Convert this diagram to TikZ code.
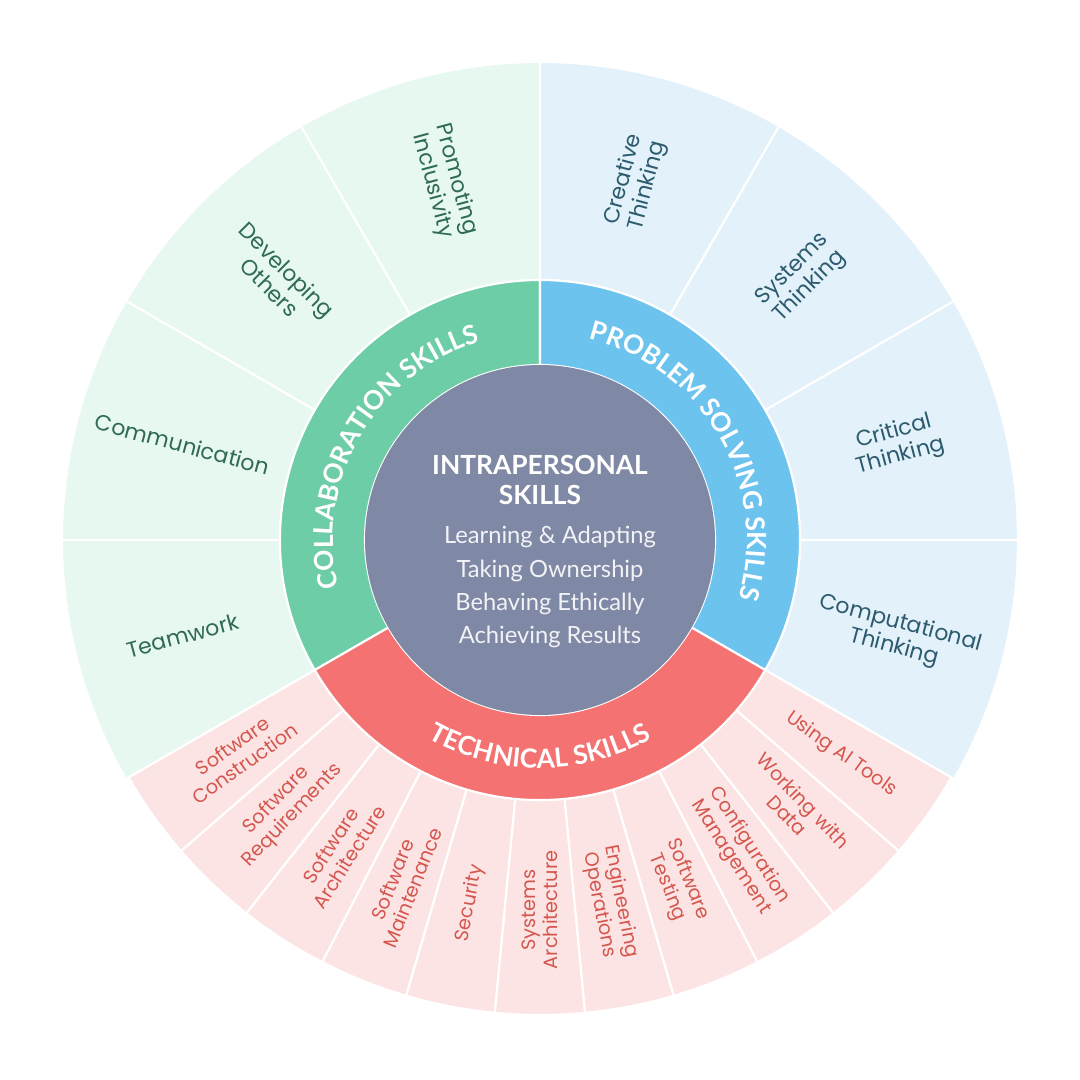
\documentclass[tikz,border=0pt]{standalone}
\usepackage{fontspec}
\setmainfont{Poppins}
\newfontfamily\ringfont{Lato}
\usetikzlibrary{decorations.text}
\definecolor{greenlight}{HTML}{E6F8F0}
\definecolor{greenring}{HTML}{6DCDA6}
\definecolor{greentext}{HTML}{2F6A52}
\definecolor{bluelight}{HTML}{E3F1FB}
\definecolor{bluering}{HTML}{6CC3EE}
\definecolor{bluetext}{HTML}{2C5B6E}
\definecolor{redlight}{HTML}{FDE4E4}
\definecolor{redring}{HTML}{F47272}
\definecolor{redtext}{HTML}{D4574F}
\definecolor{hubfill}{HTML}{7F88A4}
\newcommand{\sector}[5]{% fill, start, end, inner, outer
  \fill[#1,draw=white,line width=1.2pt] (#2:#4) arc (#2:#3:#4) -- (#3:#5) arc (#3:#2:#5) -- cycle;}
\begin{document}
\begin{tikzpicture}[x=0.02cm,y=0.02cm,
    lab/.style={font=\fontsize{12.5}{14}\selectfont,align=center,inner sep=0pt},
    ringtext/.style={decorate,decoration={text along path,text align=center,
      text={|\ringfont\bfseries\fontsize{15}{15}\selectfont\color{white}|#1}}}]
\useasboundingbox (-540,-540) rectangle (540,540);
\fill[white] (-540,-540) rectangle (540,540);
% outer sectors
\foreach \a in {90,120,150,180} {\pgfmathsetmacro\b{\a+30}\sector{greenlight}{\a}{\b}{260}{478}}
\foreach \a in {-30,0,30,60} {\pgfmathsetmacro\b{\a+30}\sector{bluelight}{\a}{\b}{260}{478}}
\foreach \i in {0,...,10} {
  \pgfmathsetmacro\a{210+\i*120/11}
  \pgfmathsetmacro\b{210+(\i+1)*120/11}
  \sector{redlight}{\a}{\b}{260}{475}}
% rings
\sector{greenring}{90}{210}{175}{260}
\sector{bluering}{-30}{90}{175}{260}
\sector{redring}{210}{330}{175}{260}
\fill[hubfill] (0,0) circle (175);
% ring labels
\path[ringtext={COLLABORATION SKILLS}] (205:207) arc (205:95:207);
\path[ringtext={PROBLEM SOLVING SKILLS}] (85:207) arc (85:-25:207);
\path[ringtext={TECHNICAL SKILLS}] (232:228) arc (232:308:228);
% hub
\node[font=\ringfont\bfseries\fontsize{15}{17}\selectfont,text=white,align=center] (hubtitle) at (0,60) {INTRAPERSONAL\\SKILLS};
\node[font=\ringfont\fontsize{13.5}{19}\selectfont,text=white!90!hubfill,align=center,below=0pt] (hublist) at (10,20)
  {Learning \& Adapting\\Taking Ownership\\Behaving Ethically\\Achieving Results};
% outer labels
\begin{scope}[text=greentext]
\node[lab,rotate=15] (teamwork) at (195:370) {Teamwork};
\node[lab,rotate=-15] (communication) at (165:370) {Communication};
\node[lab,rotate=-45] (developing) at (135:370) {Developing\\Others};
\node[lab,rotate=-75] (promoting) at (105:370) {Promoting\\Inclusivity};
\end{scope}
\begin{scope}[text=bluetext]
\node[lab,rotate=75] (creative) at (75:370) {Creative\\Thinking};
\node[lab,rotate=45] (systems) at (45:370) {Systems\\Thinking};
\node[lab,rotate=15] (critical) at (15:370) {Critical\\Thinking};
\node[lab,rotate=-15] (computational) at (-15:370) {Computational\\Thinking};
\end{scope}
\foreach \t [count=\i from 0] in {Software\\Construction,Software\\Requirements,Software\\Architecture,Software\\Maintenance,Security,Systems\\Architecture,Engineering\\Operations,Software\\Testing,Configuration\\Management,Working with\\Data,Using AI Tools} {
  \pgfmathsetmacro\ang{210+(\i+0.5)*120/11}
  \pgfmathsetmacro\rot{\ang>270 ? \ang : \ang-180}
  \node[lab,text=redtext,font=\fontsize{11}{12.5}\selectfont,rotate=\rot] (tech\i) at (\ang:370) {\t};
}
\end{tikzpicture}
\end{document}
